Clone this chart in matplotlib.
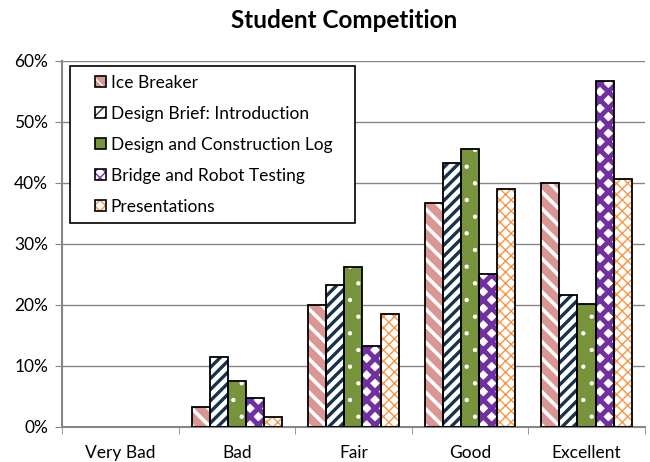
import matplotlib
matplotlib.use("Agg")
from matplotlib import pyplot as plt
from matplotlib.patches import Patch, Rectangle
from matplotlib.legend_handler import HandlerPatch
from matplotlib.ticker import PercentFormatter
import numpy as np

# data
categories = ["Very Bad", "Bad", "Fair", "Good", "Excellent"]
series = ["Ice Breaker", "Design Brief: Introduction", "Design and Construction Log",
          "Bridge and Robot Testing", "Presentations"]
ice_breaker = [0, 3.2, 20.0, 36.7, 40.0]
design_brief = [0, 11.5, 23.2, 43.3, 21.6]
construction_log = [0, 7.6, 26.2, 45.6, 20.2]
robot_testing = [0, 4.8, 13.2, 25.0, 56.7]
presentations = [0, 1.6, 18.6, 39.0, 40.6]
values = [ice_breaker, design_brief, construction_log, robot_testing, presentations]

# (face colour, hatch colour, hatch, hatch linewidth, legend hatch)
styles = [("#d99694", "white", "\\\\", 2.6, "\\\\"),
          ("white", "#17324d", "///", 2.4, "///"),
          ("#77933c", "white", ".", 0.7, "."),
          ("white", "#7030a0", "xx", 3.5, "xxx"),
          ("white", "#f79646", "xxx", 1.0, "xxx")]

plt.rcParams['font.family'] = ['Lato', 'DejaVu Sans']


def hatched_patch(patch, lw):
    if hasattr(patch, "set_hatch_linewidth"):
        patch.set_hatch_linewidth(lw)


# legend swatch sits at the right end of the handle box (leaves a left gap like Excel)
def right_square(legend, orig_handle, xdescent, ydescent, width, height, fontsize):
    return Rectangle((width - height - xdescent, -ydescent), height, height)


fig = plt.figure(figsize=(6.5, 4.62), dpi=100)
ax = fig.add_axes([0.0954, 0.0758, 0.8966, 0.7922])

x = np.arange(len(categories))
width = 0.155
handles = []
for i, (name, vals) in enumerate(zip(series, values)):
    face, hcol, hatch, hlw, lhatch = styles[i]
    plt.rcParams['hatch.linewidth'] = hlw
    pos = x + (i - 2) * width
    bars = ax.bar(pos, vals, width, color=face, edgecolor=hcol, hatch=hatch, linewidth=0, zorder=2)
    for b in bars:
        hatched_patch(b, hlw)
    edge_lw = [1.3 if v > 0 else 0 for v in vals]
    ax.bar(pos, vals, width, fill=False, edgecolor="black", linewidth=edge_lw, zorder=3)
    hp = Patch(facecolor=face, edgecolor=hcol, hatch=lhatch, linewidth=0)
    hatched_patch(hp, hlw)
    op = Patch(fill=False, edgecolor="black", linewidth=1.2)
    handles.append((hp, op))

ax.set_xlim(-0.5, 4.5)
ax.set_ylim(0, 60)
ax.set_yticks(range(0, 61, 10))
ax.yaxis.set_major_formatter(PercentFormatter(decimals=0))
ax.set_xticks(x)
ax.set_xticklabels(categories)
ax.set_xticks(np.arange(-0.5, 5, 1), minor=True)
ax.tick_params(axis="x", which="major", length=0, labelsize=12.5, pad=13)
ax.tick_params(axis="x", which="minor", length=5, color="#868686")
ax.tick_params(axis="y", length=5, color="#868686", labelsize=12.5, pad=5)
ax.grid(axis="y", color="#868686", linewidth=1, zorder=0)
ax.set_axisbelow(True)
for s in ["top", "right"]:
    ax.spines[s].set_visible(False)
for s in ["left", "bottom"]:
    ax.spines[s].set_color("#868686")
    ax.spines[s].set_linewidth(1.5)

leg = ax.legend(handles, series, loc="upper left", bbox_to_anchor=(0.0137, 0.986, 0.489, 0.0),
                mode="expand", handler_map={Patch: HandlerPatch(patch_func=right_square)},
                handlelength=1.6, handleheight=0.65, handletextpad=0.25,
                labelspacing=0.86, fontsize=12.5, fancybox=False, framealpha=1,
                edgecolor="black", borderpad=0.5, borderaxespad=0)
leg.get_frame().set_linewidth(1.2)

fig.text(0.53, 0.955, "Student Competition", ha="center", va="center",
         fontsize=17.5, fontweight="bold")

fig.savefig("out.png", dpi=100)
